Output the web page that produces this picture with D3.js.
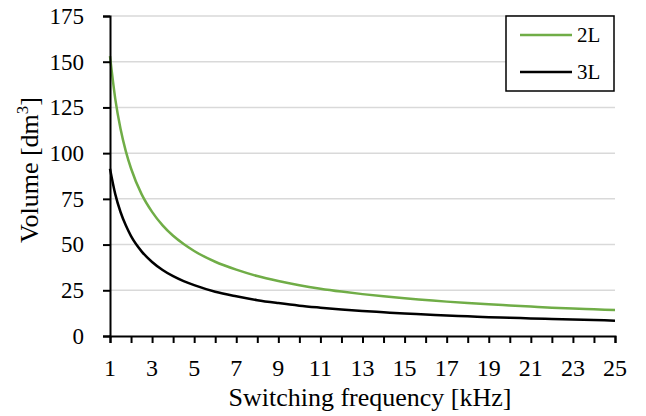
<!DOCTYPE html>
<html>
<head>
<meta charset="utf-8">
<script src="https://cdn.jsdelivr.net/npm/d3@7"></script>
<style>
  html, body { margin: 0; padding: 0; background: #fff; }
  svg text { font-family: "Liberation Serif", "Times New Roman", serif; fill: #000; }
</style>
</head>
<body>
<svg id="chart" width="646" height="416"></svg>
<script>
// ---- data ----
const frequencies = [1, 1.25, 1.5, 1.75, 2, 2.5, 3, 3.5, 4, 4.5, 5, 6, 7, 8, 9, 10, 11, 12, 13, 14, 15, 16, 17, 18, 19, 20, 21, 22, 23, 24, 25];
const volume2L = [153, 129.7, 113.3, 101.1, 91.6, 77.6, 67.9, 60.5, 54.8, 50.3, 46.5, 40.6, 36.3, 32.8, 30.1, 27.8, 25.9, 24.3, 22.9, 21.7, 20.6, 19.7, 18.8, 18.0, 17.3, 16.7, 16.1, 15.5, 15.0, 14.6, 14.2];
const volume3L = [91.5, 77.6, 67.8, 60.5, 54.6, 46.3, 40.5, 36.1, 32.7, 30.0, 27.8, 24.2, 21.7, 19.6, 18.0, 16.6, 15.5, 14.5, 13.7, 13.0, 12.3, 11.8, 11.2, 10.8, 10.3, 10.0, 9.6, 9.3, 9.0, 8.7, 8.4];
const seriesNames = ["2L", "3L"];
const seriesColors = ["#70ad47", "#000000"];
const yTicks = [0, 25, 50, 75, 100, 125, 150, 175];
const xTickLabels = [1, 3, 5, 7, 9, 11, 13, 15, 17, 19, 21, 23, 25];
const xMinorTicks = d3.range(1, 26);
const xTitle = "Switching frequency [kHz]";

const FONT = "Liberation Serif";

// ---- layout ----
const svg = d3.select("#chart");
const x = d3.scaleLinear().domain([1, 25]).range([110, 615]);
const y = d3.scaleLinear().domain([0, 175]).range([336, 16]);

// gridlines
svg.append("g").selectAll("line").data(yTicks.filter(d => d > 0)).join("line")
  .attr("x1", x(1)).attr("x2", x(25))
  .attr("y1", d => y(d)).attr("y2", d => y(d))
  .attr("stroke", "#d9d9d9").attr("stroke-width", 1.5);

// series lines
const series = [volume2L, volume3L];
const line = d3.line().x((d, i) => x(frequencies[i])).y(d => y(d)).curve(d3.curveMonotoneX);
series.forEach((vals, k) => {
  svg.append("path").datum(vals)
    .attr("d", line)
    .attr("fill", "none")
    .attr("stroke", seriesColors[k])
    .attr("stroke-width", 2.5);
});

// y axis (ticks + domain), labels drawn separately
const gy = svg.append("g").attr("transform", `translate(${x(1)},0)`)
  .call(d3.axisLeft(y).tickValues(yTicks).tickSize(7).tickFormat(""));
gy.select(".domain").attr("stroke", "#000").attr("stroke-width", 2);
gy.selectAll(".tick line").attr("stroke", "#000").attr("stroke-width", 2);
svg.append("g").selectAll("text").data(yTicks).join("text")
  .attr("x", 84).attr("y", d => y(d)).attr("dy", "0.34em")
  .attr("text-anchor", "end")
  .attr("font-family", FONT).attr("font-size", 23)
  .style("font-family", FONT).style("font-size", "23px")
  .text(d => d);

// x axis (minor ticks every 1), labels every 2 drawn separately
const gx = svg.append("g").attr("transform", `translate(0,${y(0)})`)
  .call(d3.axisBottom(x).tickValues(xMinorTicks).tickSize(7).tickFormat(""));
gx.select(".domain").attr("stroke", "#000").attr("stroke-width", 2);
gx.selectAll(".tick line").attr("stroke", "#000").attr("stroke-width", 2);
svg.append("g").selectAll("text").data(xTickLabels).join("text")
  .attr("x", d => x(d)).attr("y", 376)
  .attr("text-anchor", "middle")
  .attr("font-family", FONT).attr("font-size", 24)
  .style("font-family", FONT).style("font-size", "24px")
  .text(d => d);

// axis titles
svg.append("text").attr("x", 370).attr("y", 406).attr("text-anchor", "middle")
  .style("font-size", "26px").style("font-family", FONT).text(xTitle);

const yt = svg.append("text").attr("transform", "translate(38,170) rotate(-90)")
  .attr("text-anchor", "middle").style("font-size", "26px").style("font-family", FONT);
yt.append("tspan").text("Volume [dm");
yt.append("tspan").attr("dy", -10).style("font-size", "17px").text("3");
yt.append("tspan").attr("dy", 10).text("]");

// legend
const lg = svg.append("g");
lg.append("rect").attr("x", 506).attr("y", 16).attr("width", 108).attr("height", 75)
  .attr("fill", "#fff").attr("stroke", "#000").attr("stroke-width", 1.5);
seriesNames.forEach((name, k) => {
  const ly = 35 + k * 37;
  lg.append("line").attr("x1", 520).attr("x2", 572).attr("y1", ly).attr("y2", ly)
    .attr("stroke", seriesColors[k]).attr("stroke-width", 2.5);
  lg.append("text").attr("x", 577).attr("y", ly + 7)
    .attr("font-family", FONT).attr("font-size", 21)
    .style("font-size", "21px").style("font-family", FONT).text(name);
});
</script>
</body>
</html>
